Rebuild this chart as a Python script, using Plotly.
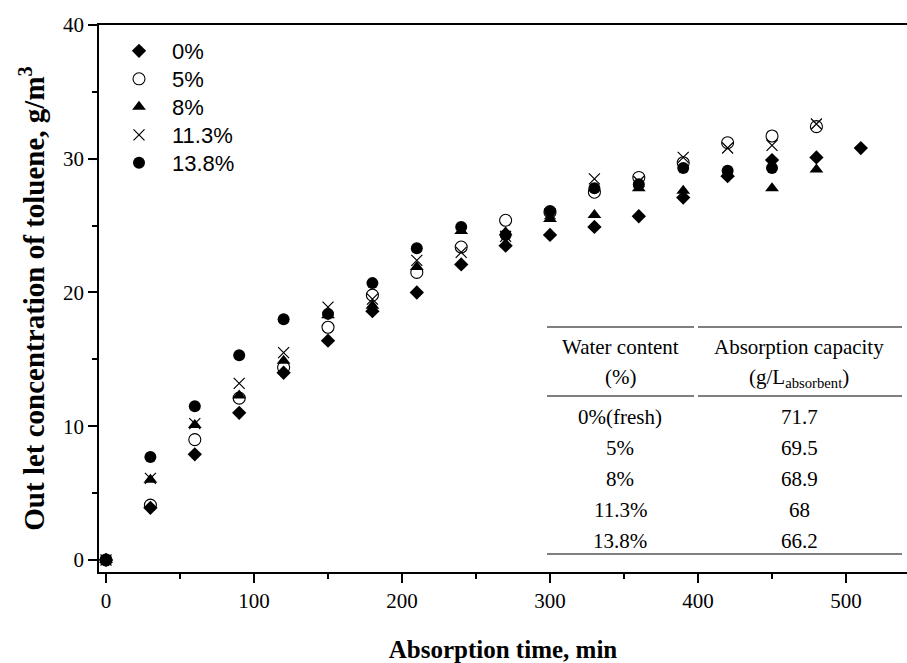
import plotly.graph_objects as go

time_min = [0, 30, 60, 90, 120, 150, 180, 210, 240, 270, 300, 330, 360, 390, 420, 450, 480, 510]

conc_0 = [0, 3.9, 7.9, 11.0, 14.0, 16.4, 18.6, 20.0, 22.1, 23.5, 24.3, 24.9, 25.7, 27.1, 28.7, 29.9, 30.1, 30.8]
conc_5 = [0, 4.1, 9.0, 12.1, 14.4, 17.4, 19.8, 21.5, 23.4, 25.4, 26.0, 27.5, 28.6, 29.7, 31.2, 31.7, 32.4, None]
conc_8 = [0, 6.0, 10.1, 12.3, 14.9, 18.3, 19.0, 21.9, 24.6, 24.5, 25.5, 25.8, 27.8, 27.6, 28.9, 27.8, 29.2, None]
conc_11_3 = [0, 6.1, 10.2, 13.2, 15.5, 18.9, 19.5, 22.4, 23.0, 24.2, 25.9, 28.5, 28.3, 30.1, 30.8, 31.0, 32.6, None]
conc_13_8 = [0, 7.7, 11.5, 15.3, 18.0, 18.4, 20.7, 23.3, 24.9, 24.3, 26.1, 27.8, 28.1, 29.3, 29.1, 29.3, None, None]

series_names = ["0%", "5%", "8%", "11.3%", "13.8%"]

table_water = ["0%(fresh)", "5%", "8%", "11.3%", "13.8%"]
table_capacity = ["71.7", "69.5", "68.9", "68", "66.2"]

SERIF = "Liberation Serif, Times New Roman, serif"
SANS = "Liberation Sans, Arial, sans-serif"

styles = [
    dict(symbol="diamond", size=11, color="black", line=dict(width=0)),
    dict(symbol="circle-open", size=12, color="black", line=dict(width=1.1, color="black")),
    dict(symbol="triangle-up", size=12, color="black", line=dict(width=0)),
    dict(symbol="x-thin-open", size=11, color="black", line=dict(width=1.2, color="black")),
    dict(symbol="circle", size=12, color="black", line=dict(width=0)),
]

# plot area in pixels: x 99..907, y 25..572
def px(xp):
    return (xp - 99) / 808.0

def py(yp):
    return (572 - yp) / 547.0

legend_ids = ["legend", "legend2", "legend3", "legend4", "legend5"]
legend_centers = [50, 78, 106, 134, 162]

fig = go.Figure()
for name, ys, st, lid in zip(series_names, [conc_0, conc_5, conc_8, conc_11_3, conc_13_8], styles, legend_ids):
    fig.add_trace(go.Scatter(x=time_min, y=ys, mode="markers", name=name, marker=st, legend=lid))

legend_layout = {}
for lid, yc in zip(legend_ids, legend_centers):
    legend_layout[lid] = dict(x=px(106), y=py(yc - 20), xanchor="left", yanchor="top",
                              font=dict(family=SANS, size=22, color="black"),
                              bgcolor="rgba(0,0,0,0)", borderwidth=0, itemwidth=56)

shapes = []
for yl in [327, 396]:
    shapes.append(dict(type="line", xref="paper", yref="paper", x0=px(547), x1=px(694), y0=py(yl), y1=py(yl),
                       line=dict(color="black", width=1.2)))
    shapes.append(dict(type="line", xref="paper", yref="paper", x0=px(698), x1=px(902), y0=py(yl), y1=py(yl),
                       line=dict(color="black", width=1.2)))
shapes.append(dict(type="line", xref="paper", yref="paper", x0=px(547), x1=px(902), y0=py(554), y1=py(554),
                   line=dict(color="black", width=1.2)))

annotations = []
tfont = dict(family=SERIF, size=21, color="black")
def add_text(x, y, t):
    annotations.append(dict(xref="paper", yref="paper", x=px(x), y=py(y), text=t,
                            showarrow=False, font=tfont, xanchor="center", yanchor="middle"))

add_text(620, 347, "Water content")
add_text(620, 377, "(%)")
add_text(799, 347, "Absorption capacity")
add_text(799, 378, "(g/L<sub>absorbent</sub>)")
for i, (w, c) in enumerate(zip(table_water, table_capacity)):
    yrow = 417 + i * 31
    add_text(620, yrow, w)
    add_text(799, yrow, c)

fig.update_layout(
    width=907, height=663,
    margin=dict(l=99, r=0, t=25, b=91),
    plot_bgcolor="white", paper_bgcolor="white",
    showlegend=True,
    xaxis=dict(range=[-4.73, 541.2], tick0=0, dtick=100, showgrid=False, zeroline=False,
               showline=True, linecolor="black", linewidth=1.6, mirror=True,
               ticks="outside", ticklen=9, tickwidth=1.6, tickcolor="black",
               minor=dict(ticks="outside", ticklen=5, tickwidth=1.6, dtick=50, tick0=0, tickcolor="black"),
               tickfont=dict(family=SERIF, size=21, color="black"),
               title=dict(text="<b>Absorption time, min</b>", font=dict(family=SERIF, size=25, color="black"),
                          standoff=30)),
    yaxis=dict(range=[-0.9, 40], tick0=0, dtick=10, showgrid=False, zeroline=False,
               showline=True, linecolor="black", linewidth=1.6, mirror=False,
               ticks="outside", ticklen=9, tickwidth=1.6, tickcolor="black",
               minor=dict(ticks="outside", ticklen=5, tickwidth=1.6, dtick=5, tick0=0, tickcolor="black"),
               tickfont=dict(family=SERIF, size=21, color="black"),
               title=dict(text="<b>Out let concentration of toluene, g/m<sup>3</sup></b>",
                          font=dict(family=SERIF, size=29, color="black"), standoff=10)),
    shapes=shapes,
    annotations=annotations,
    **legend_layout,
)

fig.write_html("out.html")
